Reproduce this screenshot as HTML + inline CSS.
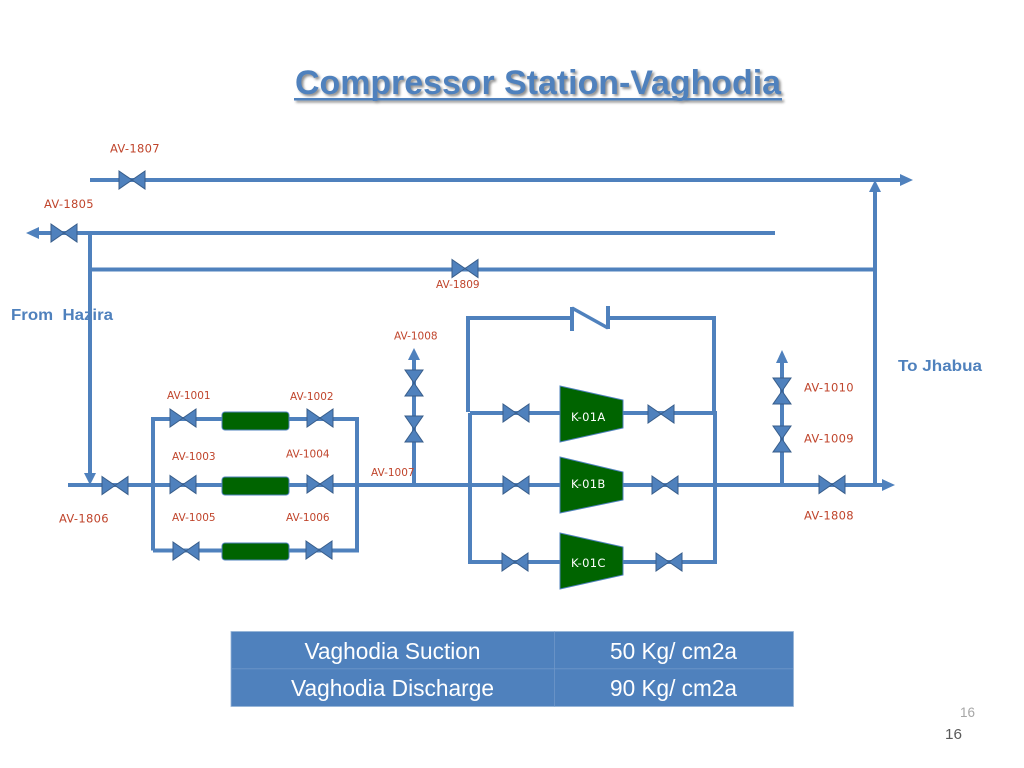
<!DOCTYPE html>
<html>
<head>
<meta charset="utf-8">
<title>Compressor Station-Vaghodia</title>
<style>
html,body{margin:0;padding:0;background:#fff;width:1024px;height:768px;overflow:hidden}
svg{display:block}
.p{stroke:#4f81bd;stroke-width:4;fill:none}
.a{fill:#4f81bd;stroke:none}
.v{fill:#4f81bd;stroke:#385d8a;stroke-width:1}
.g{fill:#006400;stroke:#4f81bd;stroke-width:1}
.l{font-family:"DejaVu Sans",sans-serif;font-size:10.5px;fill:#c0452c}
.m{font-family:"DejaVu Sans",sans-serif;font-size:11.5px;letter-spacing:.3px;fill:#c0452c}
.k{font-family:"DejaVu Sans",sans-serif;font-size:11.5px;letter-spacing:.3px;fill:#fff}
.b{font-family:"Liberation Sans",sans-serif;font-size:16px;font-weight:bold;fill:#4f81bd}
.t{font-family:"Liberation Sans",sans-serif;font-size:23px;fill:#fff;text-anchor:middle}
</style>
</head>
<body>
<svg width="1024" height="768" viewBox="0 0 1024 768" xmlns="http://www.w3.org/2000/svg">
<defs>
<filter id="s" x="-5%" y="-30%" width="110%" height="160%"><feGaussianBlur stdDeviation="1.3"/></filter>
<path id="h" d="M-13,-9 L0,0 L-13,9 Z M13,-9 L0,0 L13,9 Z"/>
<path id="u" d="M-9,-13 L9,-13 L0,0 Z M-9,13 L9,13 L0,0 Z"/>
</defs>

<!-- title -->
<g filter="url(#s)" opacity=".55" transform="translate(2,2)">
<text x="295" y="94" font-family="Liberation Sans,sans-serif" font-size="34" font-weight="bold" fill="#333" textLength="486" lengthAdjust="spacingAndGlyphs">Compressor Station-Vaghodia</text>
<rect x="294" y="98" width="488" height="2.5" fill="#333"/>
</g>
<text x="295" y="94" font-family="Liberation Sans,sans-serif" font-size="34" font-weight="bold" fill="#4f81bd" textLength="486" lengthAdjust="spacingAndGlyphs">Compressor Station-Vaghodia</text>
<rect x="294" y="98" width="488" height="2.5" fill="#4f81bd"/>

<!-- pipes -->
<path class="p" d="M90,180H902"/>
<path class="p" d="M36,233H775"/>
<path class="p" d="M90,269.500H875"/>
<path class="p" d="M90,233V474"/>
<path class="p" d="M68,485H884"/>
<path class="p" d="M875,191V485"/>
<path class="p" d="M153,550.500V419H222M288,419H357V550.500H288M222,550.500H153"/>
<path class="p" d="M414,358V485"/>
<path class="p" d="M468,412V318H572M608,318H714V413"/>
<path class="p" d="M470,413V562H560M470,413H560M623,413H715V562H623"/>
<path class="p" d="M782,362V485"/>
<path d="M572,307V331M608,306V329" stroke="#4f81bd" stroke-width="4" fill="none"/>
<path d="M572,308L608,328" stroke="#4f81bd" stroke-width="3.500" fill="none"/>

<!-- arrowheads -->
<path class="a" d="M913,180L900,174V186Z"/>
<path class="a" d="M26,233L39,227V239Z"/>
<path class="a" d="M90,485L84,473H96Z"/>
<path class="a" d="M895,485L882,479V491Z"/>
<path class="a" d="M875,180L869,192H881Z"/>
<path class="a" d="M414,348L408,360H420Z"/>
<path class="a" d="M782,350L776,363H788Z"/>

<!-- green vessels -->
<rect class="g" x="222" y="412" width="67" height="18" rx="3"/>
<rect class="g" x="222" y="477" width="67" height="18" rx="3"/>
<rect class="g" x="222" y="543" width="67" height="17" rx="3"/>

<!-- compressors -->
<path class="g" d="M560,386L623,400V428L560,442Z"/>
<path class="g" d="M560,457L623,472V500L560,513Z"/>
<path class="g" d="M560,533L623,547V575L560,589Z"/>
<text class="k" x="571" y="421">K-01A</text>
<text class="k" x="571" y="488">K-01B</text>
<text class="k" x="571" y="567">K-01C</text>

<!-- horizontal valves -->
<use href="#h" class="v" x="132" y="180"/>
<use href="#h" class="v" x="64" y="233"/>
<use href="#h" class="v" x="465" y="268.500"/>
<use href="#h" class="v" x="115" y="485.500"/>
<use href="#h" class="v" x="183" y="418"/>
<use href="#h" class="v" x="320" y="418"/>
<use href="#h" class="v" x="183" y="484.500"/>
<use href="#h" class="v" x="320" y="484"/>
<use href="#h" class="v" x="186" y="551"/>
<use href="#h" class="v" x="319" y="550"/>
<use href="#h" class="v" x="516" y="413"/>
<use href="#h" class="v" x="516" y="485"/>
<use href="#h" class="v" x="515" y="562"/>
<use href="#h" class="v" x="661" y="414"/>
<use href="#h" class="v" x="665" y="485"/>
<use href="#h" class="v" x="669" y="562"/>
<use href="#h" class="v" x="832" y="484.500"/>

<!-- vertical valves -->
<use href="#u" class="v" x="414" y="383"/>
<use href="#u" class="v" x="414" y="429"/>
<use href="#u" class="v" x="782" y="391"/>
<use href="#u" class="v" x="782" y="439"/>

<!-- labels -->
<text class="m" x="110" y="152.500">AV-1807</text>
<text class="m" x="44" y="208">AV-1805</text>
<text class="l" x="436" y="288">AV-1809</text>
<text class="l" x="394" y="339.500">AV-1008</text>
<text class="l" x="167" y="399">AV-1001</text>
<text class="l" x="290" y="400">AV-1002</text>
<text class="l" x="172" y="460">AV-1003</text>
<text class="l" x="286" y="457.500">AV-1004</text>
<text class="l" x="371" y="476">AV-1007</text>
<text class="l" x="172" y="521">AV-1005</text>
<text class="l" x="286" y="521">AV-1006</text>
<text class="m" x="59" y="522.500">AV-1806</text>
<text class="m" x="804" y="391.500">AV-1010</text>
<text class="m" x="804" y="442.500">AV-1009</text>
<text class="m" x="804" y="519.500">AV-1808</text>
<text class="b" x="11" y="320" textLength="102" lengthAdjust="spacingAndGlyphs">From&#160;&#160;Hazira</text>
<text class="b" x="898" y="371" textLength="84" lengthAdjust="spacingAndGlyphs">To Jhabua</text>

<!-- table -->
<rect x="231" y="631.500" width="562.500" height="75" fill="#4f81bd" stroke="#95b3d7" stroke-width=".8"/>
<path d="M231,668.800H793M554.500,631.500V706.500" stroke="#6e97c9" stroke-width=".8"/>
<text class="t" x="392.500" y="659" textLength="176" lengthAdjust="spacingAndGlyphs">Vaghodia Suction</text>
<text class="t" x="673.500" y="659" textLength="127" lengthAdjust="spacingAndGlyphs">50 Kg/ cm2a</text>
<text class="t" x="392.500" y="696" textLength="203" lengthAdjust="spacingAndGlyphs">Vaghodia Discharge</text>
<text class="t" x="673.500" y="696" textLength="127" lengthAdjust="spacingAndGlyphs">90 Kg/ cm2a</text>

<!-- page numbers -->
<text x="960" y="717" font-family="Liberation Sans,sans-serif" font-size="14" fill="#a6a6a6" textLength="15" lengthAdjust="spacingAndGlyphs">16</text>
<text x="945" y="739" font-family="Liberation Sans,sans-serif" font-size="15" fill="#595959" textLength="17" lengthAdjust="spacingAndGlyphs">16</text>
</svg>
</body>
</html>
